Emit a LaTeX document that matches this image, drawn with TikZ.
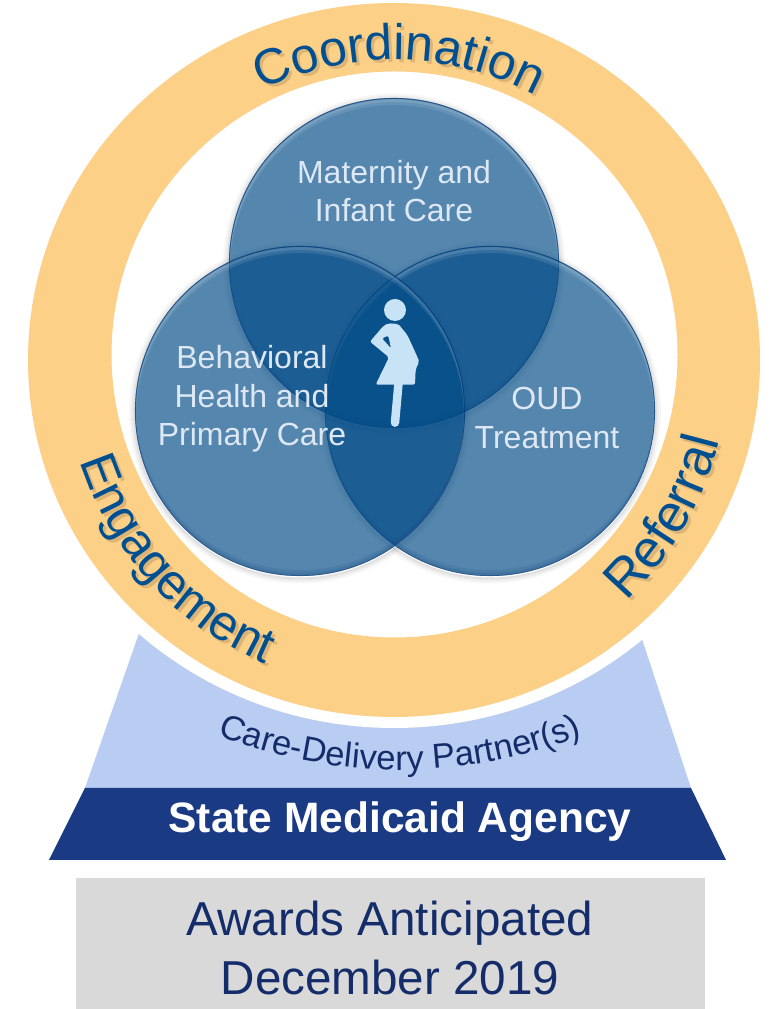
\documentclass[tikz,border=0pt]{standalone}
\usepackage{fontspec}
\setmainfont{Liberation Sans}
\usetikzlibrary{decorations.text}
\definecolor{ringc}{RGB}{253,208,136}
\definecolor{ringtext}{RGB}{0,80,145}
\definecolor{lightb}{RGB}{185,204,241}
\definecolor{darkb}{RGB}{26,58,132}
\definecolor{navy}{RGB}{20,44,105}
\definecolor{greyb}{RGB}{217,217,217}
\definecolor{vennc}{RGB}{1,75,135}
\definecolor{vennrim}{RGB}{10,60,120}
\definecolor{figc}{RGB}{200,226,246}
\definecolor{vtext}{RGB}{222,232,244}
\tikzset{
  venntext/.style={text=vtext,align=center,font=\fontsize{32}{38.5}\selectfont,inner sep=0pt},
  curved/.style={decorate,decoration={text along path,text align=center,text={#1}}},
}
\newcommand\ringfs{\fontsize{50}{50}\selectfont}
\newcommand\ringfb{\fontsize{53}{53}\selectfont}
\newcommand\vshadow[2]{%
  \draw[black,opacity=.03,line width=6pt] (#1,#2-1.5) circle[radius=168];
  \draw[black,opacity=.04,line width=4pt] (#1,#2-1.5) circle[radius=167];
  \draw[black,opacity=.05,line width=2pt] (#1,#2-1.5) circle[radius=166];
}
\newcommand\vball[2]{%
  \fill[vennc,opacity=.67] (#1,#2) circle[radius=165];
  \begin{scope}
    \clip (#1,#2) circle[radius=165];
    % top highlight and bottom shade of the bevel
    \fill[white,opacity=.10,even odd rule] (#1,#2) circle[radius=164] (#1,#2-6) circle[radius=164];
    \fill[white,opacity=.12,even odd rule] (#1,#2) circle[radius=164] (#1,#2-3) circle[radius=164];
    \fill[vennrim,opacity=.12,even odd rule] (#1,#2) circle[radius=165] (#1,#2+6) circle[radius=165];
    \fill[vennrim,opacity=.15,even odd rule] (#1,#2) circle[radius=165] (#1,#2+3) circle[radius=165];
  \end{scope}
  \draw[vennrim,opacity=.6,line width=.9pt] (#1,#2) circle[radius=164.6];
}
\newcommand\ringlabels[1]{%
  \path[curved={|\ringfs\color{#1}|Coordination}] (149:300) arc[start angle=149,end angle=29,radius=300];
  \path[curved={|\ringfs\color{#1}|Engagement}] (162.5:330) arc[start angle=162.5,end angle=282.5,radius=330];
  \path[curved={|\ringfb\color{#1}|Referral}] (-90:335) arc[start angle=-90,end angle=30,radius=335];
}
\begin{document}
\begin{tikzpicture}[x=1pt,y=1pt]
\path[use as bounding box] (0,0) rectangle (769,1009);
% base trapezoids
\fill[lightb] (140.5,380) -- (640,376) -- (691,221) -- (85,221) -- cycle;
\fill[white] (394,649) ellipse[x radius=382,y radius=368];
\fill[darkb] (85,221) -- (691,221) -- (726,149) -- (49,149) -- cycle;
% ring
\fill[ringc,even odd rule] (394,649) ellipse[x radius=366,y radius=357]
  (394.5,654.5) circle[radius=283];
% ring text
\begin{scope}[opacity=.13,shift={(397,646)}]
  \ringlabels{black}
\end{scope}
\begin{scope}[shift={(394,649)}]
  \ringlabels{ringtext}
\end{scope}
% venn
\vshadow{300}{598}
\vshadow{490}{598}
\vshadow{394}{746}
\vball{394}{746}
\vball{490}{598}
\vball{300}{598}
\node[venntext] (mat) at (394,818) {Maternity and\\Infant Care};
\node[venntext] (beh) at (252,610) {Behavioral\\Health and\\Primary Care};
\node[venntext] (oud) at (547,591) {OUD\\Treatment};
% figure
\begin{scope}[shift={(320,729)},x=.3333pt,y=-.3333pt]
  \fill[figc] (225,90) circle[x radius=33,y radius=33];
  \fill[figc,even odd rule,rounded corners=2pt]
    (205,130) -- (235,132) -- (262,165) -- (285,215) -- (298,245) -- (287,268) -- (285,314)
    -- (167,314) -- (207,232) -- (150,185) -- (190,138) -- cycle
    (186,175) -- (205,167) -- (213,205) -- cycle;
  \draw[figc,line width=8.5pt,line cap=round] (236,305) -- (225,428);
\end{scope}
% labels
\path[curved={|\fontsize{34.5}{34.5}\selectfont\color{navy}|Care-Delivery Partner(s)}]
  (400,735) ++(-140:496) arc[start angle=220,end angle=320,radius=496];
\node[text=white,font=\fontsize{42.5}{42.5}\bfseries\selectfont,inner sep=0pt] (sma) at (400,187) {State Medicaid Agency};
\node[fill=greyb,minimum width=629pt,minimum height=131pt,inner sep=0pt,anchor=south west] (box) at (76,0) {};
\node[text=navy,align=center,font=\fontsize{47.6}{59}\selectfont,inner sep=0pt] (aw) at (390,61) {Awards Anticipated\\December 2019};
\end{tikzpicture}
\end{document}
